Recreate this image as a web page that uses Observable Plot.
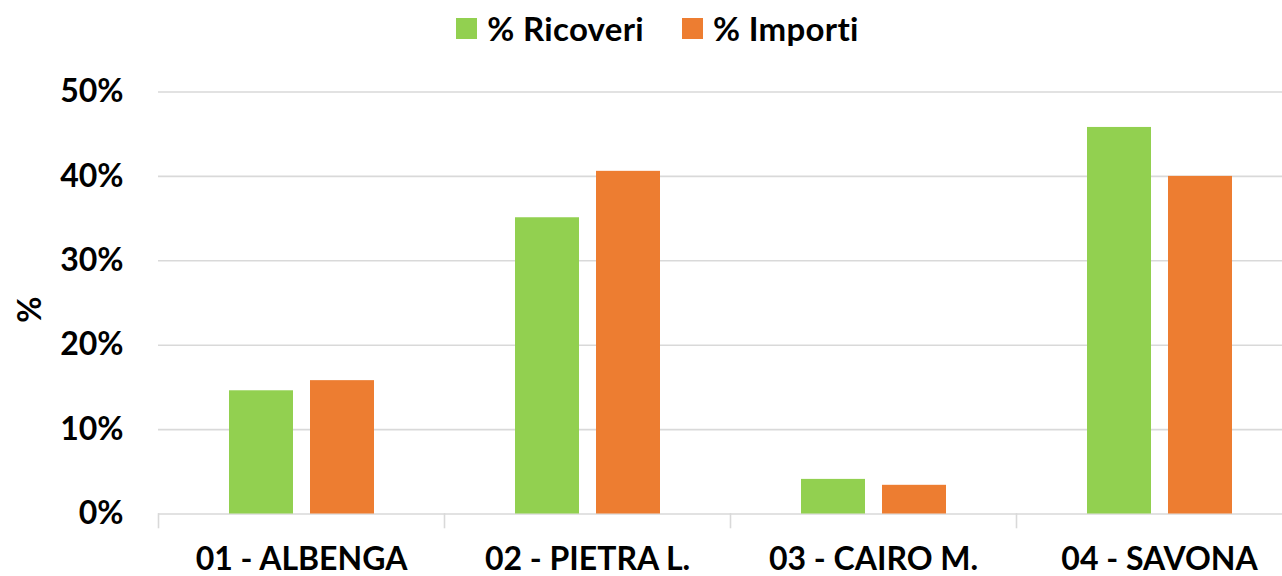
<!DOCTYPE html>
<html><head><meta charset="utf-8">
<script src="https://cdn.jsdelivr.net/npm/d3@7"></script>
<script src="https://cdn.jsdelivr.net/npm/@observablehq/plot@0.6"></script>
<style>
html,body{margin:0;padding:0;background:#fff;overflow:hidden;width:1282px;height:576px}
#legend{height:55px;display:flex;justify-content:center;align-items:center;font:bold 33px Lato,sans-serif;color:#000;padding-left:33px;box-sizing:border-box;width:1282px;letter-spacing:0.3px}
.item{display:flex;align-items:center;margin:0 19px}
.sw{width:21px;height:21px;margin-right:10px;margin-top:2px}
#chart{width:1282px;overflow:hidden}
#chart svg{display:block;max-width:none !important;height:521px !important}
</style></head><body>
<div id="legend"></div><div id="chart"></div>
<script>
const categories = ["01 - ALBENGA","02 - PIETRA L.","03 - CAIRO M.","04 - SAVONA"];
const series = ["% Ricoveri","% Importi"];
const ricoveri = [0.146, 0.351, 0.041, 0.458];
const importi = [0.158, 0.406, 0.034, 0.400];
const colors = ["#92D050","#ED7D31"];
const yTicks = [0,0.1,0.2,0.3,0.4,0.5];

const data = categories.flatMap((c,i)=>[
  {category:c, series:series[0], value:ricoveri[i]},
  {category:c, series:series[1], value:importi[i]}
]);

const legend = document.getElementById("legend");
series.forEach((s,i)=>{
  const it = document.createElement("div"); it.className="item";
  const sw = document.createElement("div"); sw.className="sw"; sw.style.background=colors[i];
  const t = document.createElement("span"); t.textContent=s;
  it.appendChild(sw); it.appendChild(t); legend.appendChild(it);
});

const chart = Plot.plot({
  width:1302, height:521, marginTop:36.5, marginBottom:49, marginLeft:158, marginRight:0,
  style:{fontFamily:"Lato, sans-serif", fontWeight:"bold", fontSize:"32px", color:"#000", overflow:"visible", background:"#fff", maxWidth:"none"},
  fx:{domain:categories, padding:0, label:null},
  x:{domain:series, paddingInner:0.21, paddingOuter:0.87, axis:null},
  y:{domain:[0,0.5], range:[458.5,36.5]},
  color:{domain:series, range:colors},
  marks:[
    Plot.gridY(yTicks,{stroke:"#d9d9d9", strokeOpacity:1, strokeWidth:1.6}),
    Plot.barY(data,{fx:"category", x:"series", y:"value", fill:"series"}),
    Plot.frame({anchor:"left", stroke:"#d9d9d9", strokeOpacity:1, strokeWidth:1.6, insetTop:422}),
    Plot.axisY(yTicks,{tickFormat:d=>Math.round(d*100)+"%", tickSize:0, tickPadding:35, label:"%", labelAnchor:"center", labelOffset:140, labelArrow:"none"}),
    Plot.axisFx({anchor:"bottom", tickSize:0, tickPadding:20, label:null})
  ]
});
document.getElementById("chart").appendChild(chart);
</script>
</body></html>
